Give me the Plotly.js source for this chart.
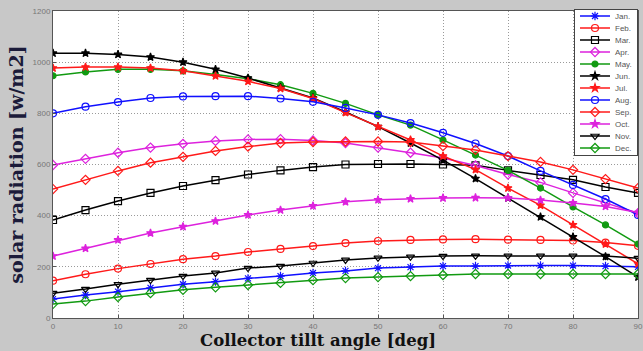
<!DOCTYPE html>
<html><head><meta charset="utf-8">
<script src="https://cdn.plot.ly/plotly-3.0.1.min.js"></script>
<style>html,body{margin:0;padding:0;background:#c8c8c8;}</style>
</head><body><div id="chart" style="width:643px;height:351px;"></div>
<script>
const angles = [0,5,10,15,20,25,30,35,40,45,50,55,60,65,70,75,80,85,90];
const months = ['Jan.','Feb.','Mar.','Apr.','May.','Jun.','Jul.','Aug.','Sep.','Oct.','Nov.','Dec.'];
const jan = [74,90,103,118,132,142,155,164,176,184,195,199,203,203,205,205,205,203,200];
const feb = [146,171,193,211,230,242,258,270,281,293,301,305,307,308,306,305,303,295,282];
const mar = [383,422,457,489,516,539,561,577,590,600,602,602,600,597,577,559,540,512,489];
const apr = [598,622,646,666,681,692,698,699,694,684,666,646,625,596,561,530,489,450,410];
const may = [947,962,972,972,966,952,935,912,878,839,794,754,696,637,577,508,434,364,289];
const jun = [1035,1035,1030,1020,1000,972,938,900,860,805,748,684,617,545,469,395,317,240,160];
const jul = [977,981,981,977,966,946,925,897,858,803,748,696,633,580,508,440,364,289,212];
const aug = [800,826,844,860,866,867,867,858,845,821,794,762,724,682,633,575,520,465,403];
const sep = [504,540,575,607,630,653,670,684,688,690,690,688,672,657,633,610,579,543,508];
const oct = [242,272,305,332,357,379,403,422,438,454,462,466,469,470,469,461,450,436,412];
const nov = [97,113,132,148,164,176,195,203,215,227,235,239,242,243,243,243,243,242,234];
const dec = [55,66,82,97,110,120,129,137,148,156,160,164,168,172,172,172,172,172,172];
const series = [jan,feb,mar,apr,may,jun,jul,aug,sep,oct,nov,dec];
const colors = ['#1010ff','#ff1a1a','#000000','#dd22dd','#119a11','#000000','#ff1a1a','#1010ff','#ff1a1a','#dd22dd','#000000','#119a11'];
const symbols = ['asterisk-open','circle-open','square-open','diamond-open','circle','star','star','circle-open','diamond-open','star','triangle-down-open','diamond-open'];

const traces = months.map((m,i)=>({
  x: angles, y: series[i], name: m, type:'scatter', mode:'lines+markers',
  line:{color:colors[i], width:1.5},
  marker:{symbol:symbols[i], size:(symbols[i]==='circle'||symbols[i]==='star')?6:7, color:colors[i], line:{color:colors[i], width:1.2}}
}));

const tickFont = {family:'Liberation Sans, Arial, sans-serif', size:8, color:'#777'};
const layout = {
  width:643, height:351,
  margin:{l:53, r:5, t:11, b:33},
  paper_bgcolor:'#c8c8c8', plot_bgcolor:'#ffffff',
  showlegend:true,
  xaxis:{range:[0,90], tick0:0, dtick:10, showgrid:true, gridcolor:'#9a9a9a', griddash:'1px,2px', gridwidth:1,
    zeroline:false, showline:true, mirror:true, linecolor:'#555', linewidth:1,
    ticks:'inside', ticklen:3, tickcolor:'#555', tickfont:tickFont},
  yaxis:{range:[0,1200], tick0:0, dtick:200, showgrid:true, gridcolor:'#9a9a9a', griddash:'1px,2px', gridwidth:1,
    zeroline:false, showline:true, mirror:true, linecolor:'#555', linewidth:1,
    ticks:'inside', ticklen:3, tickcolor:'#555', tickfont:tickFont,
    title:{text:'solar radiation [w/m2]', standoff:3,
      font:{family:'DejaVu Serif, serif', size:19, color:'#1b1b3a', weight:'bold'}}},
  annotations:[{text:'Collector tillt angle [deg]', xref:'paper', yref:'paper', x:0.453, y:-0.0717,
    xanchor:'center', yanchor:'middle', showarrow:false, borderpad:0,
    font:{family:'DejaVu Serif, serif', size:16.5, color:'#111', weight:'bold'}}],
  legend:{x:0.8906, xanchor:'left', y:1.0065, yanchor:'top', bgcolor:'#ffffff', bordercolor:'#444', borderwidth:1,
    font:{family:'Liberation Sans, Arial, sans-serif', size:8, color:'#555'}, itemwidth:30, tracegroupgap:0}
};

Plotly.newPlot('chart', traces, layout, {staticPlot:true}).then(gd=>{
  const items = gd.querySelectorAll('.legend .traces');
  if(!items.length) return;
  const tr = items[0].getAttribute('transform') || '';
  const mt = /translate\(\s*([-\d.]+)[ ,]+([-\d.]+)/.exec(tr);
  const x0 = mt ? parseFloat(mt[1]) : 1;
  const rowH = 12, y0 = 7;
  items.forEach((it,i)=> it.setAttribute('transform', 'translate(' + x0 + ',' + (y0 + i*rowH) + ')'));
  const bg = gd.querySelector('.legend rect.bg');
  if(bg) bg.setAttribute('height', y0*2 + (items.length-1)*rowH);
});
</script></body></html>
